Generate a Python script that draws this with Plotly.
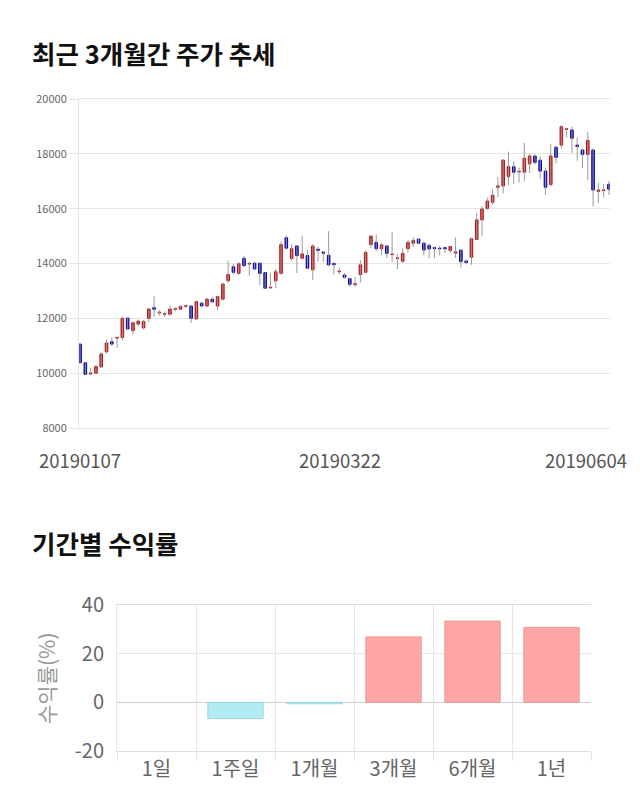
import plotly.graph_objects as go

# ---------------- data ----------------
opens = [11060, 10380, 9970, 10000, 10230, 10780, 11150, 11280, 11300, 12010,
         11550, 11790, 11650, 12000, 12390, 12200, 12150, 12150, 12330, 12330,
         12440, 12450, 11980, 12550, 12450, 12700, 12450, 12700, 13370, 13880,
         13640, 14190, 13980, 14010, 14010, 13670, 13110, 13370, 13640, 14940,
         14180, 14640, 14190, 14290, 13770, 14520, 14420, 14300, 14000, 13700,
         13580, 13450, 13230, 13600, 13680, 14690, 14770, 14540, 14640, 14330,
         14190, 14080, 14540, 14740, 14890, 14740, 14660, 14580, 14560, 14580,
         14470, 14380, 14490, 14090, 14230, 14880, 15590, 16010, 16230, 16780,
         16830, 17170, 17530, 17340, 17330, 17630, 17920, 17770, 17370, 16880,
         18240, 18320, 18890, 18870, 18320, 18140, 17980, 18140, 16630, 16660,
         16890]
closes = [10380, 9960, 10000, 10240, 10700, 11100, 11060, 11300, 12000, 11610,
          11840, 11900, 11880, 12340, 12330, 12220, 12170, 12340, 12350, 12430,
          12460, 12000, 12610, 12450, 12700, 12600, 12790, 13250, 13600, 13680,
          13990, 13920, 14000, 13800, 13640, 13100, 13130, 13700, 14690, 14560,
          14540, 14290, 14350, 13830, 14640, 14480, 14380, 13950, 13960, 13720,
          13500, 13240, 13260, 13950, 14400, 15000, 14540, 14680, 14370, 14340,
          14200, 14370, 14770, 14840, 14740, 14490, 14530, 14550, 14540, 14540,
          14620, 14420, 14070, 14040, 14900, 15590, 15990, 16280, 16490, 16830,
          17770, 17530, 17330, 17360, 17840, 17920, 17690, 17370, 16780, 17920,
          17870, 18990, 18910, 18570, 18270, 17980, 18490, 16680, 16680, 16680,
          16710]
highs = [11080, 10400, 10190, 10310, 10760, 11220, 11300, 11340, 12060, 12040,
         11880, 11960, 11940, 12380, 12800, 12300, 12250, 12470, 12400, 12480,
         12500, 12480, 12650, 12620, 12750, 12760, 12830, 13300, 14100, 13990,
         14040, 14280, 14050, 14060, 14040, 13700, 13650, 13800, 14800, 15020,
         14700, 14680, 15000, 14500, 14700, 14600, 14460, 15180, 14050, 13850,
         13650, 13480, 13500, 14120, 14480, 15020, 15050, 14760, 14680, 15150,
         14350, 14550, 14850, 14950, 14920, 14800, 14720, 14620, 14640, 14620,
         14650, 14950, 14520, 14120, 14950, 15850, 16100, 16400, 16700, 17150,
         17800, 18080, 17730, 17500, 18400, 18000, 17980, 17900, 17500, 18350,
         18300, 19050, 18950, 18990, 18600, 18200, 18810, 18200, 16950, 16900,
         17000]
lows = [10370, 9950, 9940, 9980, 10200, 10720, 11000, 10920, 11200, 11580,
        11420, 11720, 11600, 11850, 12060, 12100, 12050, 12100, 12250, 12300,
        12380, 11830, 11950, 12400, 12400, 12560, 12300, 12650, 13290, 13600,
        13600, 13870, 13560, 13750, 13220, 13080, 13100, 13100, 13600, 14500,
        14100, 13650, 14150, 13800, 13400, 14060, 14050, 13900, 13600, 13600,
        13450, 13150, 13150, 13300, 13650, 14550, 14450, 14300, 14200, 14070,
        13800, 14020, 14400, 14600, 14700, 14300, 14200, 14200, 14300, 14380,
        14400, 14200, 13850, 13980, 13950, 14850, 15000, 15950, 16150, 16420,
        16560, 16860, 16900, 16950, 17000, 17300, 17600, 17100, 16500, 16800,
        17650, 18200, 18600, 18030, 17750, 17480, 17040, 16080, 16200, 16400,
        16500]
date_labels = ["20190107", "20190322", "20190604"]
price_ticks = [8000, 10000, 12000, 14000, 16000, 18000, 20000]

periods = ["1일", "1주일", "1개월", "3개월", "6개월", "1년"]
returns = [0.0, -6.7, -0.6, 26.9, 33.4, 30.8]
return_ticks = [-20, 0, 20, 40]
return_tick_text = ["-20", "0", "20", "40"]

# ---------------- figure ----------------
W, H = 640, 810
idx = list(range(len(opens)))

wick_x, wick_y = [], []
for i, lo, hi in zip(idx, lows, highs):
    wick_x += [i, i, None]
    wick_y += [lo, hi, None]

body_hi = [max(o, c) for o, c in zip(opens, closes)]
body_lo = [min(o, c) for o, c in zip(opens, closes)]

fig = go.Figure()
fig.add_trace(go.Scatter(x=wick_x, y=wick_y, mode="lines",
                         line=dict(color="#9a9a9a", width=1),
                         hoverinfo="skip", showlegend=False,
                         xaxis="x", yaxis="y"))
fig.add_trace(go.Candlestick(
    x=idx, open=opens, close=closes, high=body_hi, low=body_lo,
    increasing=dict(fillcolor="#dd2020", line=dict(color="#b31515", width=1)),
    decreasing=dict(fillcolor="#0c0cd2", line=dict(color="#0808a0", width=1)),
    whiskerwidth=0, showlegend=False, xaxis="x", yaxis="y"))


def bar_fill(v):
    if v > 0:
        return "#ffa6a6"
    if v < 0:
        return "#b3ebf3"
    return "rgba(0,0,0,0)"


def bar_edge(v):
    if v > 0:
        return "#e89898"
    if v < 0:
        return "#98d6e2"
    return "rgba(0,0,0,0)"


fig.add_trace(go.Bar(x=periods, y=returns, width=0.7,
                     marker=dict(color=[bar_fill(v) for v in returns],
                                 line=dict(color=[bar_edge(v) for v in returns], width=1)),
                     showlegend=False, xaxis="x2", yaxis="y2"))

font_family = "Noto Sans CJK KR"
grid = "#e6e6e6"

annotations = [
    dict(text="<b>최근 3개월간 주가 추세</b>", xref="paper", yref="paper",
         x=30 / W, y=1 - 52 / H, xanchor="left", yanchor="middle",
         showarrow=False, font=dict(size=25.5, color="#111", family=font_family)),
    dict(text="<b>기간별 수익률</b>", xref="paper", yref="paper",
         x=30 / W, y=1 - 542 / H, xanchor="left", yanchor="middle",
         showarrow=False, font=dict(size=25.5, color="#111", family=font_family)),
    dict(text="수익률(%)", xref="paper", yref="paper", textangle=-90,
         x=46 / W, y=1 - 678 / H, xanchor="center", yanchor="middle",
         showarrow=False, font=dict(size=21, color="#999", family=font_family)),
]
# date labels: left / middle / right of the price chart
date_pos = [(80, "center"), (340, "center"), (629, "right")]
for lab, (px, anchor) in zip(date_labels, date_pos):
    annotations.append(dict(text=lab, xref="paper", yref="paper", x=px / W,
                            y=1 - 460 / H, xanchor=anchor, yanchor="middle",
                            showarrow=False,
                            font=dict(size=18.5, color="#555", family=font_family)))

fig.update_layout(
    width=W, height=H, margin=dict(l=0, r=0, t=0, b=0, autoexpand=False),
    paper_bgcolor="white", plot_bgcolor="white",
    font=dict(family=font_family, color="#666"),
    annotations=annotations,
    xaxis=dict(domain=[79 / W, 610 / W], anchor="y", range=[-0.2, 100.2],
               showgrid=False, showticklabels=False, zeroline=False, automargin=False,
               showline=True, mirror=True, linecolor=grid, linewidth=1,
               rangeslider=dict(visible=False), fixedrange=True),
    yaxis=dict(domain=[1 - 428 / H, 1 - 99 / H], anchor="x", range=[8000, 20000],
               tickvals=price_ticks, tickformat="d", gridcolor=grid, zeroline=False,
               showline=True, linecolor=grid, linewidth=1, automargin=False,
               ticks="outside", ticklen=9, tickcolor=grid,
               tickfont=dict(size=11, color="#666")),
    xaxis2=dict(domain=[117 / W, 591 / W], anchor="y2", type="category",
                tickson="boundaries", ticks="outside", ticklen=9, tickcolor=grid,
                showgrid=True, gridcolor=grid, zeroline=False, automargin=False,
                showline=True, mirror=True, linecolor="#dcdcdc", linewidth=1,
                tickfont=dict(size=20, color="#666")),
    yaxis2=dict(domain=[1 - 751 / H, 1 - 605 / H], anchor="x2", range=[-20, 40],
                tickvals=return_ticks, ticktext=return_tick_text,
                gridcolor=grid, zeroline=True, zerolinecolor="#cfcfcf",
                zerolinewidth=1, ticklabelstandoff=8, automargin=False,
                showline=True, linecolor=grid, linewidth=1,
                tickfont=dict(size=20, color="#666")),
    bargap=0.3,
)

fig.write_html("out.html")
